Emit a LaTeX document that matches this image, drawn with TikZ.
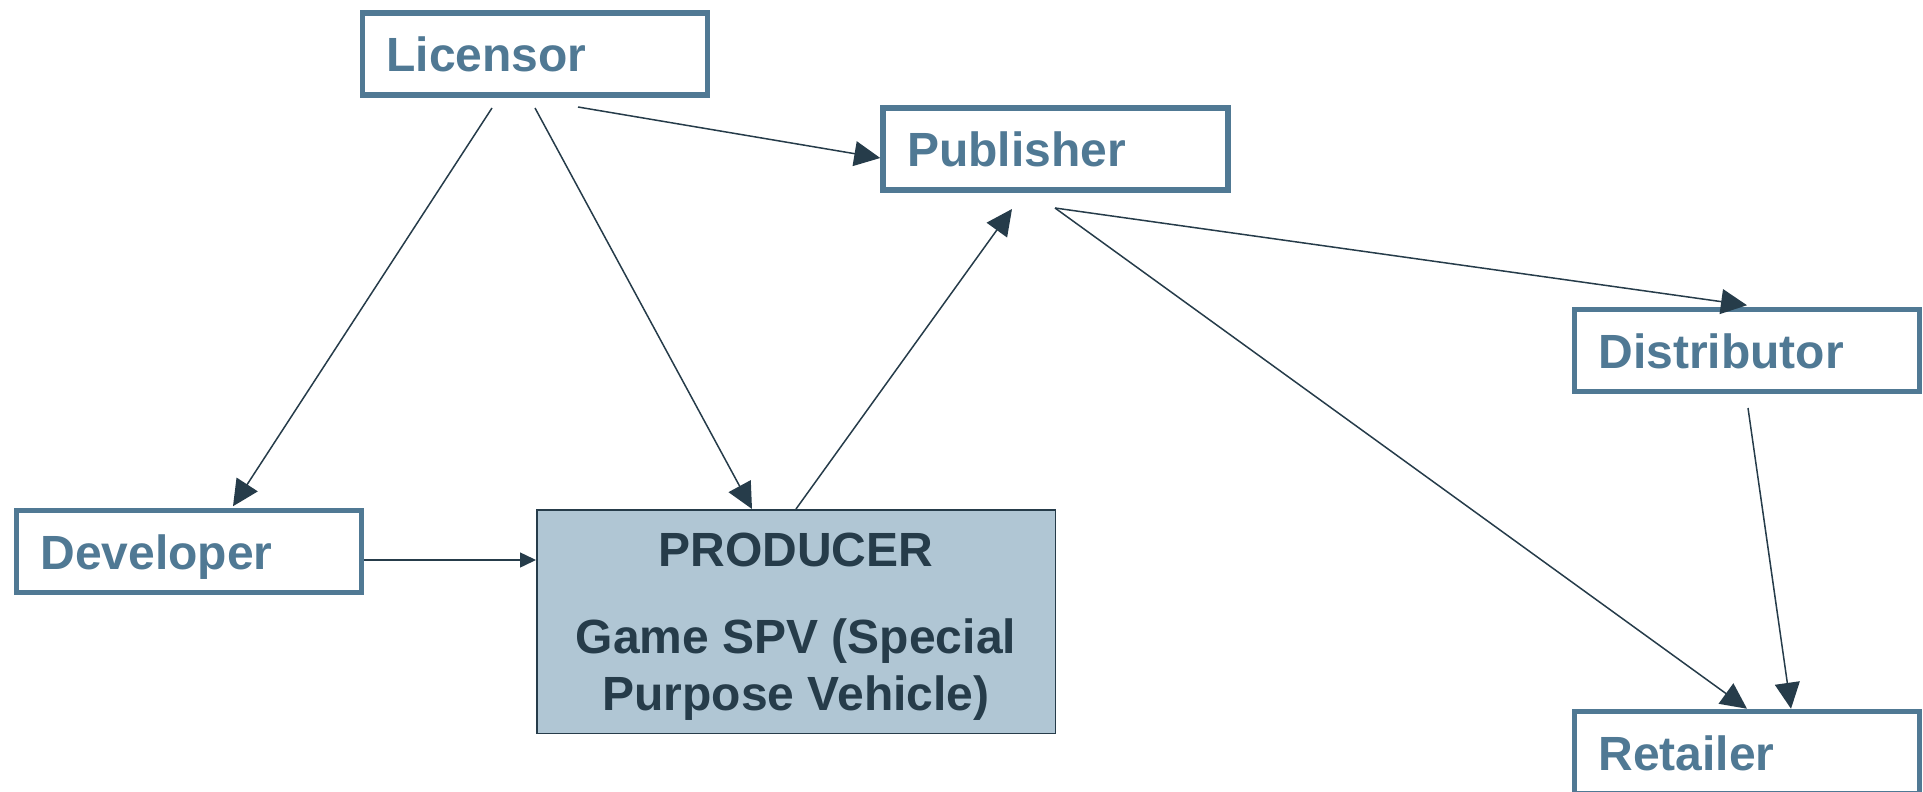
\documentclass[tikz,border=0pt]{standalone}
\usepackage{fontspec}
\setmainfont{Liberation Sans}
\usetikzlibrary{arrows.meta,calc}
\definecolor{boxblue}{RGB}{80,121,148}
\definecolor{inkdark}{RGB}{38,60,74}
\definecolor{spvfill}{RGB}{176,198,212}
\begin{document}
\begin{tikzpicture}[x=1pt,y=-1pt,
  role/.style={rectangle, draw=boxblue, line width=5.5pt, fill=white,
    minimum width=345pt, minimum height=82pt,
    inner xsep=24pt, inner ysep=0pt, text width=297pt, align=left,
    text height=35pt, text depth=0pt, text=boxblue,
    font=\bfseries\fontsize{48}{57}\selectfont},
  spvbox/.style={rectangle, draw=inkdark, line width=1.5pt, fill=spvfill,
    minimum width=518.5pt, minimum height=223.5pt, inner sep=0pt},
  spvtext/.style={text=inkdark, align=center,
    font=\bfseries\fontsize{48}{57}\selectfont},
  link/.style={draw=inkdark, line width=1.5pt,
    -{Triangle[length=26pt,width=25pt]}},
  shortlink/.style={draw=inkdark, line width=1.5pt,
    -{Triangle[length=16pt,width=15pt]}},
]
\useasboundingbox (0,0) rectangle (1923,792);
\clip (0,0) rectangle (1923,792);

% parties
\node[role] (lic)  at (535,54)      {Licensor};
\node[role] (pub)  at (1055.5,149)  {Publisher};
\node[role] (dev)  at (189,551.5)   {Developer};
\node[role] (dist) at (1747,350.5)  {Distributor};
\node[role] (ret)  at (1747,752.5)  {Retailer};

% the producing vehicle
\node[spvbox] (prod) at (796,621.5) {};
\node[spvtext] (prodtext) at (796,626.25)
  {PRODUCER\\[30pt]Game SPV (Special\\Purpose Vehicle)};

% loose ends of the flows
\coordinate (licA)    at (492,108);
\coordinate (licB)    at (535,108);
\coordinate (licC)    at (578,107);
\coordinate (pubIn)   at (1012,209);
\coordinate (pubOut)  at (1055,208);
\coordinate (distOut) at (1748,408);

% flows
\draw[link] (licA) -- ([xshift=44pt,yshift=1.5pt]dev.north);
\draw[link] (licB) -- ([xshift=-44pt]prod.north);
\draw[link] (licC) -- ([yshift=-9pt]pub.west);
\draw[shortlink] ([yshift=-8.5pt]dev.east) -- ([yshift=-8.5pt]dev.east -| prod.west);
\draw[link] (prod.north) -- (pubIn);
\draw[link] (pubOut) -- ([yshift=1.5pt]dist.north);
\draw[link] (pubOut) -- (ret.north);
\draw[link] (distOut) -- ([xshift=44pt]ret.north);
\end{tikzpicture}
\end{document}
